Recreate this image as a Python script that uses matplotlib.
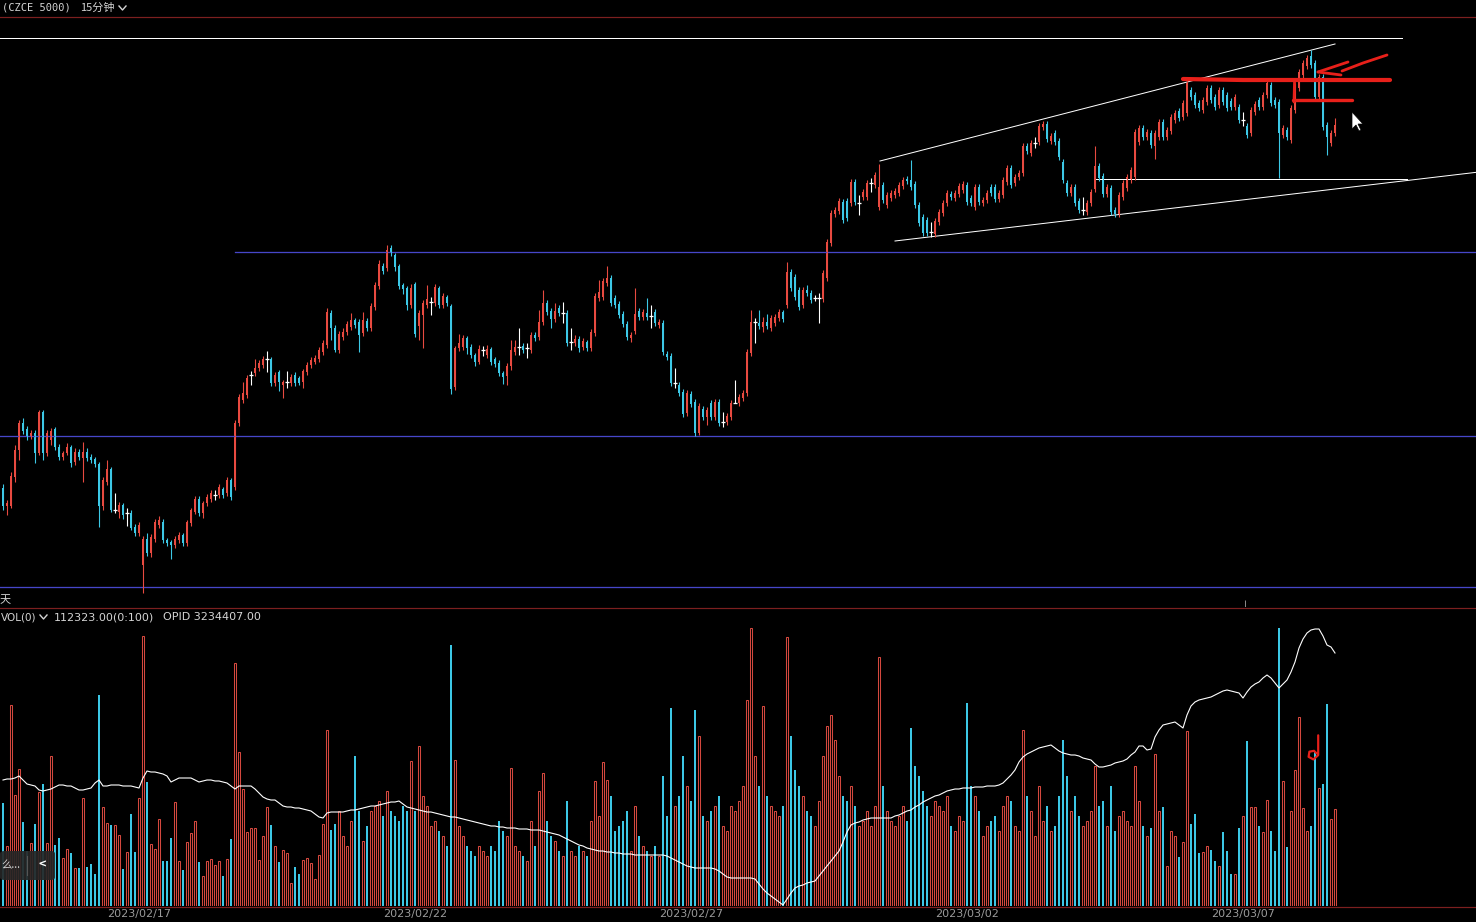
import matplotlib
matplotlib.use('Agg')
import numpy as np
import matplotlib.pyplot as plt
from matplotlib.lines import Line2D
from matplotlib.patches import Polygon, FancyBboxPatch
from matplotlib.transforms import blended_transform_factory

plt.rcParams['font.family'] = ['Noto Sans CJK SC', 'DejaVu Sans']

# 15分钟 K线 (CZCE 5000)
opens = [
    5512, 5494, 5494, 5523, 5550, 5577, 5571, 5564, 5567, 5547,
    5588, 5547, 5560, 5571, 5553, 5543, 5547, 5553, 5538, 5548,
    5542, 5548, 5543, 5541, 5536, 5494, 5518, 5531, 5490, 5488,
    5495, 5487, 5487, 5473, 5467, 5435, 5461, 5447, 5461, 5475,
    5478, 5460, 5458, 5455, 5460, 5465, 5457, 5477, 5488, 5501,
    5487, 5497, 5501, 5505, 5505, 5511, 5507, 5520, 5513, 5577,
    5600, 5605, 5625, 5627, 5632, 5635, 5641, 5641, 5617, 5628,
    5615, 5618, 5617, 5625, 5622, 5618, 5628, 5635, 5638, 5641,
    5648, 5655, 5687, 5672, 5650, 5663, 5668, 5673, 5680, 5678,
    5667, 5679, 5672, 5693, 5714, 5734, 5732, 5752, 5745, 5734,
    5715, 5712, 5695, 5716, 5674, 5685, 5695, 5698, 5697, 5712,
    5695, 5703, 5694, 5613, 5652, 5653, 5662, 5653, 5645, 5638,
    5650, 5645, 5651, 5641, 5637, 5627, 5624, 5634, 5648, 5653,
    5654, 5652, 5650, 5665, 5663, 5678, 5697, 5689, 5681, 5692,
    5687, 5687, 5658, 5657, 5661, 5653, 5658, 5652, 5667, 5702,
    5703, 5717, 5722, 5702, 5696, 5686, 5676, 5662, 5669, 5689,
    5683, 5687, 5684, 5688, 5675, 5677, 5646, 5644, 5617, 5615,
    5608, 5587, 5606, 5598, 5567, 5591, 5583, 5597, 5583, 5598,
    5578, 5578, 5583, 5597, 5597, 5602, 5607, 5647, 5678, 5677,
    5673, 5678, 5672, 5677, 5682, 5688, 5695, 5728, 5723, 5710,
    5695, 5710, 5707, 5702, 5702, 5701, 5722, 5757, 5786, 5789,
    5798, 5799, 5797, 5818, 5797, 5803, 5803, 5817, 5815, 5793,
    5815, 5795, 5802, 5805, 5807, 5814, 5821, 5820, 5816, 5795,
    5783, 5780, 5768, 5766, 5778, 5787, 5797, 5806, 5802, 5806,
    5810, 5815, 5802, 5793, 5813, 5797, 5800, 5813, 5813, 5801,
    5805, 5818, 5832, 5817, 5823, 5827, 5854, 5847, 5857, 5858,
    5873, 5876, 5859, 5867, 5859, 5838, 5817, 5807, 5813, 5799,
    5790, 5788, 5797, 5811, 5834, 5824, 5806, 5812, 5790, 5786,
    5803, 5812, 5820, 5823, 5858, 5872, 5863, 5867, 5854, 5863,
    5878, 5863, 5869, 5880, 5889, 5883, 5887, 5910, 5905, 5897,
    5890, 5898, 5912, 5903, 5895, 5910, 5905, 5899, 5893, 5893,
    5880, 5874, 5867, 5888, 5900, 5893, 5905, 5915, 5900, 5898,
    5865, 5870, 5860, 5890, 5912, 5925, 5934, 5944, 5937, 5903,
    5923, 5875, 5857, 5867,
]
closes = [
    5494, 5497, 5524, 5550, 5577, 5569, 5564, 5567, 5547, 5588,
    5547, 5567, 5569, 5553, 5543, 5547, 5553, 5537, 5548, 5543,
    5548, 5542, 5540, 5536, 5494, 5520, 5531, 5490, 5490, 5495,
    5485, 5487, 5472, 5467, 5475, 5461, 5447, 5463, 5478, 5480,
    5460, 5457, 5455, 5461, 5465, 5457, 5478, 5490, 5501, 5487,
    5497, 5503, 5507, 5505, 5513, 5505, 5520, 5503, 5577, 5603,
    5607, 5622, 5625, 5632, 5637, 5641, 5641, 5617, 5625, 5618,
    5618, 5618, 5623, 5617, 5617, 5629, 5635, 5640, 5642, 5650,
    5657, 5688, 5672, 5650, 5666, 5668, 5676, 5680, 5675, 5665,
    5680, 5672, 5694, 5715, 5736, 5729, 5750, 5748, 5733, 5714,
    5711, 5695, 5712, 5666, 5687, 5697, 5701, 5698, 5713, 5695,
    5704, 5697, 5611, 5652, 5657, 5662, 5652, 5645, 5638, 5651,
    5650, 5651, 5638, 5636, 5627, 5623, 5634, 5650, 5653, 5653,
    5650, 5652, 5665, 5662, 5678, 5697, 5688, 5681, 5689, 5687,
    5687, 5657, 5658, 5661, 5652, 5659, 5652, 5668, 5704, 5708,
    5719, 5722, 5697, 5695, 5685, 5676, 5663, 5665, 5686, 5683,
    5688, 5683, 5684, 5677, 5678, 5648, 5643, 5617, 5617, 5607,
    5586, 5607, 5596, 5567, 5594, 5583, 5590, 5583, 5598, 5577,
    5578, 5584, 5597, 5597, 5603, 5607, 5648, 5678, 5678, 5674,
    5678, 5674, 5682, 5683, 5688, 5681, 5728, 5712, 5703, 5693,
    5710, 5707, 5700, 5702, 5702, 5727, 5758, 5787, 5790, 5799,
    5780, 5782, 5818, 5798, 5797, 5808, 5817, 5817, 5825, 5813,
    5800, 5805, 5807, 5809, 5815, 5820, 5819, 5813, 5795, 5777,
    5767, 5767, 5768, 5779, 5788, 5797, 5807, 5803, 5807, 5814,
    5816, 5798, 5797, 5813, 5798, 5800, 5807, 5807, 5801, 5807,
    5820, 5832, 5815, 5823, 5827, 5854, 5849, 5857, 5857, 5874,
    5876, 5861, 5864, 5858, 5843, 5820, 5807, 5813, 5797, 5790,
    5790, 5797, 5808, 5834, 5822, 5806, 5813, 5788, 5786, 5805,
    5817, 5823, 5830, 5868, 5872, 5863, 5868, 5855, 5867, 5878,
    5863, 5870, 5883, 5887, 5882, 5897, 5917, 5903, 5895, 5892,
    5900, 5912, 5900, 5893, 5910, 5898, 5892, 5893, 5903, 5880,
    5880, 5865, 5890, 5896, 5893, 5905, 5917, 5897, 5895, 5867,
    5872, 5863, 5892, 5914, 5928, 5937, 5942, 5935, 5903, 5923,
    5873, 5863, 5867, 5875,
]
highs = [
    5516, 5500, 5528, 5555, 5580, 5582, 5574, 5570, 5570, 5590,
    5590, 5570, 5572, 5573, 5556, 5549, 5557, 5555, 5552, 5551,
    5558, 5552, 5546, 5543, 5538, 5523, 5540, 5533, 5507, 5498,
    5497, 5492, 5490, 5476, 5478, 5464, 5467, 5466, 5481, 5484,
    5481, 5462, 5460, 5464, 5468, 5467, 5480, 5492, 5504, 5504,
    5499, 5506, 5510, 5510, 5516, 5513, 5523, 5522, 5580, 5606,
    5618, 5625, 5629, 5641, 5640, 5644, 5649, 5643, 5628, 5630,
    5620, 5629, 5626, 5628, 5624, 5631, 5638, 5643, 5645, 5653,
    5660, 5692, 5690, 5675, 5669, 5672, 5679, 5687, 5682, 5681,
    5688, 5682, 5697, 5718, 5740, 5737, 5755, 5755, 5747, 5736,
    5717, 5714, 5716, 5718, 5690, 5700, 5715, 5703, 5716, 5714,
    5707, 5705, 5696, 5654, 5666, 5665, 5664, 5656, 5647, 5655,
    5654, 5655, 5653, 5643, 5640, 5629, 5637, 5660, 5660, 5672,
    5657, 5657, 5668, 5668, 5690, 5710, 5700, 5692, 5697, 5695,
    5698, 5690, 5672, 5665, 5664, 5662, 5660, 5671, 5707, 5720,
    5722, 5734, 5725, 5705, 5699, 5689, 5679, 5668, 5712, 5692,
    5691, 5702, 5695, 5691, 5681, 5680, 5649, 5647, 5632, 5618,
    5611, 5610, 5609, 5601, 5597, 5594, 5593, 5600, 5601, 5601,
    5588, 5587, 5600, 5620, 5606, 5610, 5651, 5690, 5682, 5690,
    5683, 5686, 5685, 5686, 5691, 5690, 5738, 5731, 5726, 5713,
    5713, 5715, 5710, 5705, 5707, 5730, 5761, 5790, 5793, 5802,
    5801, 5802, 5821, 5821, 5805, 5811, 5820, 5822, 5828, 5836,
    5818, 5808, 5810, 5812, 5818, 5823, 5824, 5840, 5819, 5798,
    5786, 5783, 5778, 5782, 5791, 5800, 5810, 5809, 5810, 5817,
    5819, 5818, 5805, 5816, 5816, 5803, 5810, 5816, 5816, 5810,
    5823, 5835, 5835, 5826, 5830, 5857, 5857, 5860, 5863, 5877,
    5879, 5879, 5867, 5870, 5862, 5841, 5820, 5816, 5816, 5802,
    5803, 5800, 5811, 5854, 5837, 5827, 5816, 5815, 5793, 5808,
    5820, 5826, 5833, 5871, 5875, 5875, 5871, 5870, 5870, 5881,
    5881, 5873, 5886, 5890, 5892, 5900, 5920, 5913, 5908, 5900,
    5903, 5915, 5915, 5906, 5913, 5913, 5908, 5902, 5906, 5896,
    5888, 5877, 5893, 5899, 5903, 5908, 5920, 5918, 5903, 5901,
    5875, 5873, 5895, 5917, 5931, 5940, 5945, 5950, 5940, 5926,
    5926, 5878, 5870, 5882,
]
lows = [
    5490, 5485, 5492, 5518, 5540, 5566, 5560, 5561, 5537, 5545,
    5540, 5544, 5555, 5550, 5540, 5540, 5545, 5533, 5535, 5540,
    5518, 5539, 5537, 5533, 5473, 5490, 5515, 5488, 5487, 5482,
    5481, 5474, 5470, 5464, 5464, 5407, 5444, 5443, 5458, 5472,
    5457, 5454, 5441, 5452, 5457, 5454, 5454, 5474, 5486, 5484,
    5482, 5494, 5498, 5500, 5502, 5502, 5504, 5500, 5510, 5574,
    5597, 5602, 5615, 5624, 5629, 5632, 5628, 5614, 5614, 5609,
    5602, 5612, 5614, 5614, 5615, 5612, 5625, 5632, 5636, 5638,
    5645, 5652, 5660, 5648, 5647, 5660, 5665, 5670, 5672, 5648,
    5664, 5669, 5669, 5690, 5711, 5726, 5729, 5744, 5729, 5711,
    5706, 5690, 5692, 5663, 5660, 5652, 5692, 5685, 5694, 5692,
    5692, 5694, 5606, 5610, 5649, 5650, 5646, 5642, 5634, 5636,
    5644, 5642, 5635, 5633, 5624, 5616, 5615, 5630, 5645, 5645,
    5647, 5642, 5647, 5659, 5660, 5675, 5685, 5672, 5678, 5684,
    5677, 5654, 5650, 5654, 5648, 5650, 5649, 5649, 5664, 5699,
    5700, 5714, 5694, 5692, 5682, 5673, 5660, 5658, 5666, 5680,
    5680, 5680, 5672, 5674, 5672, 5645, 5640, 5614, 5612, 5604,
    5583, 5584, 5593, 5564, 5565, 5580, 5575, 5580, 5580, 5574,
    5573, 5575, 5580, 5597, 5594, 5599, 5604, 5644, 5657, 5671,
    5668, 5671, 5669, 5674, 5679, 5678, 5692, 5709, 5700, 5690,
    5692, 5704, 5697, 5699, 5677, 5698, 5719, 5754, 5783, 5786,
    5777, 5779, 5794, 5795, 5785, 5800, 5800, 5808, 5812, 5790,
    5797, 5792, 5799, 5802, 5804, 5811, 5816, 5810, 5792, 5774,
    5764, 5764, 5763, 5763, 5775, 5784, 5794, 5800, 5799, 5803,
    5807, 5795, 5794, 5790, 5795, 5794, 5797, 5804, 5798, 5798,
    5802, 5815, 5812, 5814, 5820, 5824, 5846, 5844, 5852, 5855,
    5870, 5858, 5856, 5855, 5840, 5817, 5804, 5804, 5794, 5787,
    5785, 5785, 5794, 5808, 5819, 5803, 5803, 5785, 5783, 5783,
    5800, 5809, 5817, 5820, 5855, 5860, 5860, 5852, 5841, 5860,
    5860, 5860, 5866, 5877, 5879, 5880, 5884, 5900, 5892, 5889,
    5887, 5895, 5897, 5890, 5892, 5895, 5889, 5890, 5890, 5877,
    5874, 5862, 5864, 5885, 5890, 5890, 5902, 5894, 5892, 5822,
    5862, 5860, 5857, 5887, 5909, 5922, 5931, 5932, 5900, 5900,
    5870, 5845, 5854, 5864,
]
# 成交量 (千手)
volume = [
    119, 70, 233, 129, 159, 97, 64, 73, 95, 132,
    142, 73, 174, 71, 79, 56, 66, 61, 44, 44,
    125, 45, 49, 37, 245, 115, 96, 94, 94, 82,
    43, 63, 107, 63, 125, 313, 144, 72, 66, 101,
    52, 52, 79, 121, 52, 42, 74, 85, 99, 51,
    35, 52, 55, 48, 52, 35, 55, 78, 282, 179,
    136, 86, 90, 90, 53, 81, 115, 94, 70, 51,
    65, 61, 27, 45, 37, 53, 56, 50, 31, 59,
    95, 204, 88, 95, 110, 81, 70, 99, 174, 110,
    75, 93, 110, 116, 122, 104, 133, 110, 104, 99,
    116, 110, 168, 110, 186, 128, 116, 93, 99, 87,
    81, 70, 303, 169, 93, 81, 70, 64, 58, 70,
    64, 58, 70, 64, 99, 87, 81, 160, 70, 64,
    58, 52, 99, 70, 133, 154, 99, 81, 75, 64,
    58, 122, 64, 58, 70, 64, 58, 99, 145, 104,
    167, 146, 128, 87, 93, 99, 110, 64, 116, 81,
    70, 64, 58, 70, 58, 151, 104, 230, 116, 128,
    174, 139, 122, 227, 197, 104, 99, 110, 116, 128,
    93, 87, 116, 110, 122, 139, 239, 322, 174, 139,
    232, 128, 116, 110, 104, 116, 312, 197, 158, 139,
    128, 110, 104, 93, 122, 174, 209, 222, 193, 151,
    128, 122, 139, 116, 93, 99, 110, 93, 116, 289,
    139, 110, 99, 93, 104, 116, 99, 206, 162, 151,
    133, 116, 104, 122, 116, 110, 128, 93, 87, 104,
    99, 235, 139, 128, 110, 81, 93, 99, 104, 87,
    116, 128, 122, 93, 87, 204, 128, 110, 81, 139,
    99, 116, 87, 93, 128, 193, 151, 110, 128, 104,
    93, 99, 110, 162, 116, 122, 93, 139, 87, 104,
    110, 99, 93, 162, 122, 93, 81, 90, 176, 110,
    115, 46, 87, 81, 57, 74, 203, 95, 107, 61,
    63, 70, 65, 52, 46, 86, 64, 37, 37, 90,
    104, 191, 115, 115, 93, 86, 123, 87, 64, 322,
    145, 68, 110, 158, 219, 114, 87, 93, 179, 137,
    142, 234, 101, 112,
]
# 持仓量 OPID (千手)
open_interest = [
    2980, 2982, 2982, 2984, 2988, 2980, 2972, 2970, 2968, 2960,
    2958, 2960, 2962, 2966, 2970, 2970, 2968, 2968, 2964, 2960,
    2960, 2962, 2964, 2974, 2980, 2968, 2968, 2970, 2970, 2970,
    2968, 2968, 2968, 2966, 2964, 2984, 2998, 2996, 2996, 2994,
    2992, 2988, 2976, 2980, 2984, 2984, 2984, 2984, 2980, 2976,
    2978, 2980, 2980, 2978, 2978, 2976, 2974, 2968, 2962, 2968,
    2968, 2968, 2968, 2962, 2954, 2946, 2942, 2940, 2940, 2934,
    2928, 2926, 2926, 2924, 2924, 2922, 2920, 2918, 2912, 2906,
    2904, 2914, 2916, 2916, 2916, 2916, 2918, 2920, 2920, 2922,
    2924, 2926, 2928, 2928, 2930, 2932, 2934, 2936, 2936, 2938,
    2932, 2926, 2924, 2922, 2920, 2918, 2916, 2916, 2914, 2912,
    2910, 2908, 2906, 2906, 2904, 2902, 2900, 2898, 2896, 2894,
    2892, 2890, 2888, 2888, 2886, 2886, 2884, 2884, 2884, 2882,
    2882, 2882, 2880, 2880, 2880, 2878, 2876, 2874, 2872, 2870,
    2866, 2862, 2858, 2854, 2850, 2848, 2844, 2842, 2840, 2838,
    2838, 2836, 2836, 2834, 2834, 2832, 2832, 2832, 2830, 2830,
    2830, 2830, 2830, 2830, 2830, 2830, 2828, 2824, 2820, 2816,
    2812, 2808, 2806, 2804, 2804, 2804, 2804, 2804, 2802, 2798,
    2792, 2786, 2784, 2784, 2784, 2784, 2784, 2784, 2782, 2772,
    2762, 2754, 2748, 2742, 2736, 2730, 2742, 2754, 2764, 2768,
    2770, 2774, 2776, 2778, 2788, 2798, 2808, 2818, 2828, 2838,
    2856, 2876, 2890, 2894, 2896, 2900, 2902, 2904, 2904, 2904,
    2904, 2904, 2904, 2908, 2910, 2914, 2918, 2920, 2926, 2930,
    2936, 2940, 2944, 2948, 2950, 2954, 2958, 2960, 2962, 2962,
    2964, 2964, 2964, 2966, 2966, 2966, 2968, 2968, 2968, 2970,
    2974, 2982, 2990, 3000, 3016, 3026, 3032, 3036, 3040, 3044,
    3046, 3048, 3050, 3044, 3038, 3034, 3032, 3030, 3030, 3028,
    3024, 3022, 3020, 3012, 3006, 3006, 3008, 3010, 3014, 3016,
    3018, 3022, 3030, 3036, 3048, 3048, 3040, 3042, 3066, 3080,
    3090, 3092, 3094, 3096, 3090, 3084, 3110, 3128, 3136, 3140,
    3142, 3144, 3146, 3150, 3154, 3158, 3160, 3158, 3156, 3154,
    3144, 3156, 3166, 3172, 3176, 3184, 3190, 3184, 3174, 3164,
    3172, 3180, 3196, 3216, 3244, 3262, 3274, 3280, 3282, 3282,
    3268, 3250, 3246, 3234,
]
date_labels = ['2023/02/17', '2023/02/22', '2023/02/27', '2023/03/02', '2023/03/07']
date_bars = [34, 103, 172, 241, 310]

# drawing-tool lines, (bar index, price)
top_line = ([-1, 349.75], [5962, 5962])
blue_levels = [(58, 5748), (-1, 5564), (-1, 5413)]
channel_upper = ([219.25, 333], [5839, 5956])
channel_lower = ([223, 369], [5759, 5828])
support_line = ([273, 351], [5821, 5821])
# red hand-drawn marks
marks = [
    ([295, 310, 330, 346.75], [5921, 5920, 5920, 5920], 3.0),
    ([322.5, 337.25], [5900, 5900], 2.4),
    ([322.75, 322.9], [5898, 5920], 2.0),
    ([328.75, 336.25], [5928, 5938], 2.0),
    ([328.75, 334.5], [5928, 5925], 2.0),
    ([334.75, 340, 346], [5929, 5937, 5945], 2.0),
]
vol_mark = ([328.8, 328.8, 327.6, 326.4, 326.6, 327.75, 328.4],
            [198, 175, 170, 173, 179, 180, 177])

W, H = 1476, 922
RED = '#e84a40'
CYAN = '#3cc8e6'
VRED = '#d4483e'
RULE = '#7c1f1f'
BLUE = '#4646c8'
MARK = '#e8201a'
TXT = '#d4d4d4'
PX = 0.72  # 1 pixel in points


def fy(y):
    return 1 - y / H


fig = plt.figure(figsize=(W / 100, H / 100), dpi=100, facecolor='black')
ax = fig.add_axes([0, fy(607), 1, (607 - 18) / H])
axv = fig.add_axes([0, fy(906), 1, (906 - 609) / H])
axo = axv.twinx()
for a in (ax, axv, axo):
    a.set_facecolor('none')
    a.set_axis_off()
    a.set_xlim(-0.75, 368.25)
axv.set_facecolor('black')
ax.set_ylim(5393, 5982)
axv.set_ylim(0, 344.5)
axo.set_ylim(2728, 3322)

o = np.array(opens)
c = np.array(closes)
hi = np.array(highs)
lo = np.array(lows)
v = np.array(volume)
x = np.arange(len(c))
up = c > o
dn = c < o
flat = c == o

# price panel
ax.plot(*top_line, color='white', lw=PX)
for start, lvl in blue_levels:
    ax.plot([start, 370], [lvl, lvl], color=BLUE, lw=PX * 1.3)
ax.plot(*channel_upper, color='white', lw=PX)
ax.plot(*channel_lower, color='white', lw=PX)
ax.plot(*support_line, color='white', lw=PX)

cols = np.where(up, RED, np.where(dn, CYAN, 'white'))
ax.vlines(x, lo, hi, colors=cols, lw=PX * 1.1)
ax.bar(x[up], (c - o)[up], bottom=o[up], width=0.72, color=RED, lw=0)
ax.bar(x[dn], (o - c)[dn], bottom=c[dn], width=0.72, color=CYAN, lw=0)
ax.hlines(c[flat], x[flat] - 0.4, x[flat] + 0.4, color='white', lw=PX * 1.3)

for xs, ys, w in marks:
    ax.plot(xs, ys, color=MARK, lw=w * PX * 1.4, solid_capstyle='round')
ax.vlines(310.6, 5393, 5400, color='#888888', lw=PX)

# volume panel
rise = c >= o
axv.bar(x[~rise], v[~rise], width=0.68, color=CYAN, lw=0)
axv.bar(x[rise], v[rise], width=0.55, facecolor='black', edgecolor=VRED, lw=0.75)
axv.plot(*vol_mark, color=MARK, lw=2.2 * PX, solid_capstyle='round')
axo.plot(x, open_interest, color='white', lw=0.8)

# separators
for yy in (17, 608, 907):
    fig.add_artist(Line2D([0, 1], [fy(yy), fy(yy)], transform=fig.transFigure,
                          color=RULE, lw=1.2 * PX))

# texts
fig.text(2 / W, fy(8), '(CZCE 5000)', color=TXT, fontsize=7.5,
         family='DejaVu Sans Mono', va='center')
fig.text(80 / W, fy(8), '15分钟', color=TXT, fontsize=8, va='center')
fig.add_artist(Line2D([119 / W, 122.5 / W, 126 / W], [fy(6), fy(10), fy(6)],
                      transform=fig.transFigure, color=TXT, lw=1.0))
fig.text(0, fy(600), '天', color=TXT, fontsize=8, va='center')
fig.text(1 / W, fy(617), 'VOL(0)', color=TXT, fontsize=7.5,
         family='DejaVu Sans', va='center')
fig.add_artist(Line2D([40 / W, 43.5 / W, 47 / W], [fy(615), fy(619), fy(615)],
                      transform=fig.transFigure, color=TXT, lw=1.0))
fig.text(54 / W, fy(617), '112323.00(0:100)', color=TXT, fontsize=8,
         family='DejaVu Sans', va='center')
fig.text(163 / W, fy(617), 'OPID 3234407.00', color=TXT, fontsize=8,
         family='DejaVu Sans', va='center')

tr = blended_transform_factory(axv.transData, fig.transFigure)
for b, lab in zip(date_bars, date_labels):
    axv.text(b, fy(914), lab, transform=tr, color='#9a9a9a', fontsize=8,
             family='DejaVu Sans', ha='center', va='center', clip_on=False)

# bottom-left button
fig.add_artist(FancyBboxPatch((0, fy(880)), 55 / W, 29 / H,
                              boxstyle='round,pad=0,rounding_size=0.003',
                              transform=fig.transFigure, facecolor='#262626',
                              edgecolor='none', alpha=0.92, zorder=5))
fig.text(1 / W, fy(865), '么...', color=TXT, fontsize=7.5, va='center', zorder=6)
fig.add_artist(Line2D([27 / W, 27 / W], [fy(856), fy(875)], transform=fig.transFigure,
                      color='#555555', lw=0.8, zorder=6))
fig.text(42 / W, fy(865), '<', color='white', fontsize=9, va='center',
         ha='center', fontweight='bold', zorder=6)

# mouse cursor
cur = [(1352, 112), (1352, 129), (1356, 125), (1359, 131), (1361, 130), (1358, 124), (1363, 124)]
fig.add_artist(Polygon([(px / W, fy(py)) for px, py in cur], closed=True,
                       transform=fig.transFigure, facecolor='white',
                       edgecolor='black', lw=0.5, zorder=10))

fig.savefig('out.png', dpi=100, facecolor='black')
